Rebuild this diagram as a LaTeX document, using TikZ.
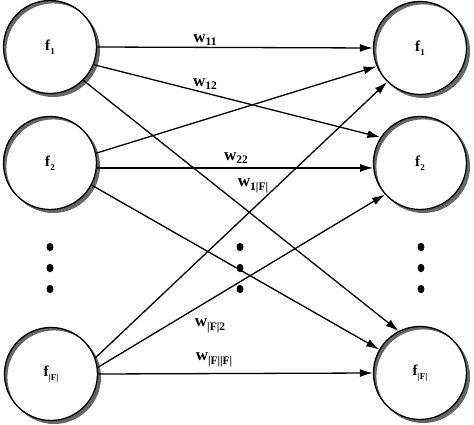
\documentclass[tikz,border=0pt]{standalone}
\usepackage{fontspec}
\setmainfont{Liberation Serif}
\usetikzlibrary{arrows.meta,shapes.geometric}
\newcommand{\wlab}[1]{\textbf{w}\raisebox{-0.45ex}{\fontsize{11.5}{11.5}\selectfont\textbf{#1}}}
\newcommand{\flab}[1]{\textbf{f}\raisebox{-0.5ex}{\fontsize{9}{9}\selectfont\textbf{#1}}}
\begin{document}
\begin{tikzpicture}[x=1pt,y=1pt,
  neuron/.style={circle,draw,line width=1.3pt,minimum size=93pt,inner sep=0pt,font=\fontsize{15}{15}\selectfont},
  edge/.style={line width=1.3pt,-{Latex[length=13pt,width=8pt]}},
  wlabel/.style={font=\fontsize{17}{17}\selectfont,inner sep=0pt},
  shadowfill/.style={fill=black!60,even odd rule},
  vdot/.style={fill,ellipse,minimum width=7pt,minimum height=8.5pt,inner sep=0pt}
]
\useasboundingbox (0,0) rectangle (474,424);
\foreach \px/\py in {50/377,50/261,51/50,420/376,420/261,420/51}
  \fill[shadowfill] (\px+3.2,\py-3.2) circle[radius=46.8] (\px,\py) circle[radius=46.8];
\node[neuron] (L1) at (50,377) {\flab{1}};
\node[neuron] (L2) at (50,261) {\flab{2}};
\node[neuron] (L3) at (51,50) {\flab{|F|}};
\node[neuron] (R1) at (420,376) {\flab{1}};
\node[neuron] (R2) at (420,261) {\flab{2}};
\node[neuron] (R3) at (420,51) {\flab{|F|}};
% dots
\foreach \x/\c in {50/a,240/b,421/c}{
  \node[vdot] (\c1) at (\x,177) {};
  \node[vdot] (\c2) at (\x,156) {};
  \node[vdot] (\c3) at (\x,135) {};
}
% edges
\draw[edge] (L1.east) -- (R1.west);
\draw[edge] (L1.-22) -- (R2.147);
\draw[edge] (L1.-45) -- (R3.117);
\draw[edge] (L2.12) -- (R1.-157);
\draw[edge] (L2.-6) -- (R2.186);
\draw[edge] (L2.-28) -- (R3.150);
\draw[edge] (L3.20) -- (R1.-134);
\draw[edge] (L3.8) -- (R2.-138);
\draw[edge] (L3.east) -- (R3.west);
% labels
\node[wlabel] (w11) at (205,384) {\wlab{11}};
\node[wlabel] (w12) at (205,340) {\wlab{12}};
\node[wlabel] (w22) at (236,266) {\wlab{22}};
\node[wlabel] (w1F) at (253,238) {\wlab{1|F|}};
\node[wlabel] (wF2) at (210,98) {\wlab{|F|2}};
\node[wlabel] (wFF) at (214,64) {\wlab{|F||F|}};
\end{tikzpicture}
\end{document}
